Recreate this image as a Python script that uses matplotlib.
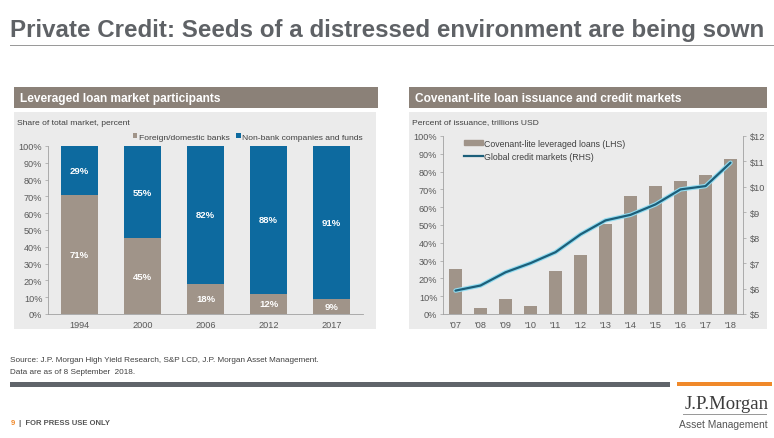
import matplotlib
matplotlib.use("Agg")
import matplotlib.pyplot as plt
from matplotlib.patches import Rectangle, Patch
from matplotlib.lines import Line2D
import matplotlib.ticker as mticker

# --- data -------------------------------------------------------------
years_left = ["1994", "2000", "2006", "2012", "2017"]
banks = [71, 45, 18, 12, 9]
nonbank = [29, 55, 82, 88, 91]

years_right = ["'07", "'08", "'09", "'10", "'11", "'12", "'13", "'14", "'15", "'16", "'17", "'18"]
covlite_pct = [25.3, 3.4, 8.4, 4.3, 24, 33.2, 50.6, 66.4, 71.9, 74.7, 78, 87]
credit_tn = [5.92, 6.12, 6.64, 7.0, 7.43, 8.13, 8.68, 8.9, 9.31, 9.9, 10.03, 10.95]

# --- styling ----------------------------------------------------------
W, H = 774, 439
BROWN = "#a09489"
BLUE = "#0d6a9f"
HEADER = "#8b8178"
PANEL = "#ebebeb"
TXT = "#595959"
FS = 6.6  # tick / label size

plt.rcParams["font.family"] = ["Liberation Sans", "DejaVu Sans"]
plt.rcParams["axes.linewidth"] = 0.6


def px(x0, y0, x1, y1):
    # pixel box (top-left origin) -> figure fraction rect
    return [x0 / W, 1 - y1 / H, (x1 - x0) / W, (y1 - y0) / H]


def rect(x0, y0, x1, y1, color):
    r = Rectangle((x0 / W, 1 - y1 / H), (x1 - x0) / W, (y1 - y0) / H,
                  transform=fig.transFigure, color=color, lw=0, zorder=-10)
    fig.patches.append(r)


def ftext(x, y, s, **kw):
    return fig.text(x / W, 1 - y / H, s, **kw)


fig = plt.figure(figsize=(W / 100, H / 100), dpi=100)
fig.patch.set_facecolor("white")

# title
title = ftext(10, 31, "Private Credit: Seeds of a distressed environment are being sown",
              weight="bold", fontsize=14, color="#5f6266", va="center")
rect(10, 46, 774, 47, "#9a9a9a")

# panel headers and backgrounds
rect(14, 88, 378, 109, HEADER)
rect(14, 113, 376, 330, PANEL)
rect(409, 88, 767, 109, HEADER)
rect(409, 113, 767, 330, PANEL)
ftext(20, 99, "Leveraged loan market participants", color="white",
      weight="bold", fontsize=8.6, va="center")
ftext(415, 99, "Covenant-lite loan issuance and credit markets", color="white",
      weight="bold", fontsize=8.6, va="center")
ftext(17, 124, "Share of total market, percent", color="#404040", fontsize=6.1, va="center")
ftext(412, 123, "Percent of issuance, trillions USD", color="#404040", fontsize=6.1, va="center")

# --- left chart -------------------------------------------------------
ax = fig.add_axes(px(48, 147, 363, 315))
ax.set_facecolor("none")
xl = range(len(years_left))
ax.bar(xl, banks, width=0.59, color=BROWN, label="Foreign/domestic banks")
ax.bar(xl, nonbank, width=0.59, bottom=banks, color=BLUE,
       label="Non-bank companies and funds")
for i, (b, n) in enumerate(zip(banks, nonbank)):
    ax.text(i, b / 2, f"{b}%", ha="center", va="center", color="white",
            fontsize=6.8, weight="bold")
    ax.text(i, b + n / 2, f"{n}%", ha="center", va="center", color="white",
            fontsize=6.8, weight="bold")
ax.set_xlim(-0.5, 4.5)
ax.set_ylim(0, 100)
ax.set_xticks(list(xl))
ax.set_xticklabels(years_left)
ax.yaxis.set_major_locator(mticker.MultipleLocator(10))
ax.yaxis.set_major_formatter(mticker.FuncFormatter(lambda v, p: f"{v:.0f}%"))
for s in ["top", "right"]:
    ax.spines[s].set_visible(False)
for s in ["left", "bottom"]:
    ax.spines[s].set_color("#a0a0a0")
ax.tick_params(axis="y", labelsize=FS, colors="#a0a0a0", labelcolor=TXT,
               length=2, width=0.5, pad=2)
ax.tick_params(axis="x", labelsize=FS, colors="#a0a0a0", labelcolor=TXT,
               length=0, pad=4)
ax.legend(loc="lower right", bbox_to_anchor=(1.015, 1.0), ncol=2, frameon=False,
          fontsize=6.1, handlelength=0.55, handleheight=0.55, handletextpad=0.15,
          columnspacing=0.8, borderaxespad=0.2, labelcolor="#404040")

# --- right chart ------------------------------------------------------
ax2 = fig.add_axes(px(443, 137, 743, 315))
ax2.set_facecolor("none")
xr = range(len(years_right))
ax2.bar(xr, covlite_pct, width=0.55, color=BROWN)
ax2.set_xlim(-0.5, len(years_right) - 0.5)
ax2.set_ylim(0, 100)
ax2.set_xticks(list(xr))
ax2.set_xticklabels(years_right)
ax2.yaxis.set_major_locator(mticker.MultipleLocator(10))
ax2.yaxis.set_major_formatter(mticker.FuncFormatter(lambda v, p: f"{v:.0f}%"))
ax2.spines["top"].set_visible(False)
ax2.spines["right"].set_visible(False)
for s in ["left", "bottom"]:
    ax2.spines[s].set_color("#a0a0a0")
ax2.tick_params(axis="y", labelsize=FS, colors="#a0a0a0", labelcolor=TXT,
                length=2, width=0.5, pad=2)
ax2.tick_params(axis="x", labelsize=FS, colors="#a0a0a0", labelcolor=TXT,
                length=0, pad=4)

ax3 = ax2.twinx()
ax3.plot(xr, credit_tn, color="#93dcf0", lw=3.2, solid_capstyle="round")
ax3.plot(xr, credit_tn, color="#1c5f7a", lw=1.6, solid_capstyle="round")
ax3.set_ylim(5, 12)
ax3.yaxis.set_major_locator(mticker.MultipleLocator(1))
ax3.yaxis.set_major_formatter(mticker.FuncFormatter(lambda v, p: f"${v:.0f}"))
for s in ["top", "left", "bottom"]:
    ax3.spines[s].set_visible(False)
ax3.spines["right"].set_color("#a0a0a0")
ax3.tick_params(axis="y", labelsize=FS, colors="#a0a0a0", labelcolor=TXT,
                length=2, width=0.5, pad=3)

handles = [Patch(color=BROWN), Line2D([], [], color="#1c5f7a", lw=1.6)]
ax2.legend(handles, ["Covenant-lite leveraged loans (LHS)", "Global credit markets (RHS)"],
           loc="upper left", bbox_to_anchor=(0.045, 1.03), frameon=False, fontsize=6.3,
           handlelength=2.1, handleheight=0.6, handletextpad=0.1, labelspacing=0.5,
           labelcolor="#404040")

# --- footer -----------------------------------------------------------
ftext(10, 361, "Source: J.P. Morgan High Yield Research, S&P LCD, J.P. Morgan Asset Management.",
      fontsize=5.9, color="#404040", va="center")
ftext(10, 373, "Data are as of 8 September  2018.",
      fontsize=5.9, color="#404040", va="center")
rect(10, 383, 670, 388, "#60646a")
rect(677, 383, 772, 387, "#f0892a")
ftext(11, 424, "9", fontsize=5.5, color="#f0892a", weight="bold", va="center")
ftext(19, 424, "|  FOR PRESS USE ONLY", fontsize=5.5, color="#555555",
      weight="bold", va="center")
ftext(769, 405, "J.P.Morgan", family=["Liberation Serif", "DejaVu Serif"], fontsize=13.5,
      color="#3c3c3c", ha="right", va="center")
rect(683, 415, 767, 416, "#9a9a9a")
ftext(768, 425, "Asset Management", fontsize=7.4, color="#555555",
      ha="right", va="center")

# squeeze the title so it spans the same width as in the slide
r = fig.canvas.get_renderer()
tw = title.get_window_extent(r).width
title.set_fontsize(14 * 755 / tw)

fig.savefig("out.png", dpi=100)
